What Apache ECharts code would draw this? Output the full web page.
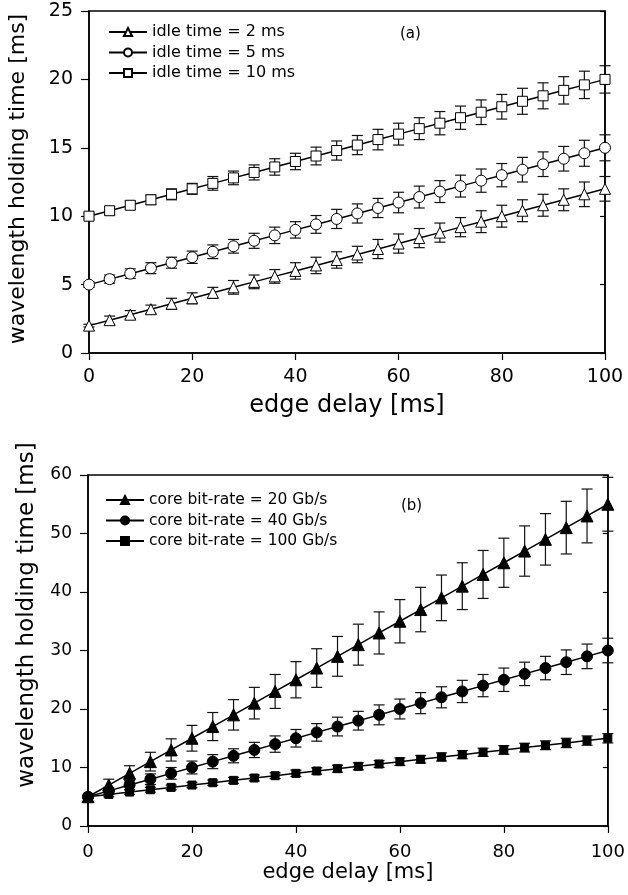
<!DOCTYPE html>
<html lang="en">
  <head>
    <meta charset="UTF-8" />
    <title>wavelength holding time</title>
    <script src="https://cdn.jsdelivr.net/npm/echarts@6.0.0/dist/echarts.min.js"></script>
    <style>
      html, body { margin: 0; padding: 0; background: #fff; }
      #main { width: 628px; height: 895px; }
    </style>
  </head>
  <body>
    <div id="main"></div>

    <script>
      var mCharts = echarts.init(document.getElementById("main"))

      // edge delay [ms]
      var delays = [0, 4, 8, 12, 16, 20, 24, 28, 32, 36, 40, 44, 48, 52, 56, 60, 64, 68, 72, 76, 80, 84, 88, 92, 96, 100]

      // (a) idle time
      var idle2 = [2.0, 2.4, 2.8, 3.2, 3.6, 4.0, 4.4, 4.8, 5.2, 5.6, 6.0, 6.4, 6.8, 7.2, 7.6, 8.0, 8.4, 8.8, 9.2, 9.6, 10.0, 10.4, 10.8, 11.2, 11.6, 12.0]
      var idle2Err = [0.1, 0.3, 0.3, 0.3, 0.4, 0.4, 0.4, 0.5, 0.5, 0.5, 0.6, 0.6, 0.6, 0.6, 0.7, 0.7, 0.7, 0.7, 0.7, 0.8, 0.8, 0.8, 0.8, 0.8, 0.9, 0.9]
      var idle5 = [5.0, 5.4, 5.8, 6.2, 6.6, 7.0, 7.4, 7.8, 8.2, 8.6, 9.0, 9.4, 9.8, 10.2, 10.6, 11.0, 11.4, 11.8, 12.2, 12.6, 13.0, 13.4, 13.8, 14.2, 14.6, 15.0]
      var idle5Err = [0.2, 0.3, 0.35, 0.4, 0.4, 0.45, 0.5, 0.5, 0.55, 0.6, 0.6, 0.65, 0.7, 0.7, 0.7, 0.75, 0.8, 0.8, 0.8, 0.85, 0.85, 0.9, 0.9, 0.9, 0.95, 0.95]
      var idle10 = [10.0, 10.4, 10.8, 11.2, 11.6, 12.0, 12.4, 12.8, 13.2, 13.6, 14.0, 14.4, 14.8, 15.2, 15.6, 16.0, 16.4, 16.8, 17.2, 17.6, 18.0, 18.4, 18.8, 19.2, 19.6, 20.0]
      var idle10Err = [0.2, 0.3, 0.3, 0.35, 0.4, 0.4, 0.5, 0.5, 0.55, 0.6, 0.6, 0.65, 0.7, 0.7, 0.75, 0.8, 0.8, 0.85, 0.85, 0.9, 0.9, 0.95, 0.95, 1.0, 1.0, 1.0]

      // (b) core bit-rate
      var rate20 = [5, 7, 9, 11, 13, 15, 17, 19, 21, 23, 25, 27, 29, 31, 33, 35, 37, 39, 41, 43, 45, 47, 49, 51, 53, 55]
      var rate20Err = [0.3, 1.0, 1.3, 1.6, 1.9, 2.2, 2.4, 2.6, 2.7, 2.9, 3.1, 3.3, 3.4, 3.5, 3.6, 3.7, 3.8, 3.9, 4.0, 4.1, 4.2, 4.3, 4.4, 4.5, 4.6, 4.6]
      var rate40 = [5, 6, 7, 8, 9, 10, 11, 12, 13, 14, 15, 16, 17, 18, 19, 20, 21, 22, 23, 24, 25, 26, 27, 28, 29, 30]
      var rate40Err = [0.2, 0.6, 0.8, 0.9, 1.0, 1.1, 1.2, 1.2, 1.3, 1.4, 1.5, 1.5, 1.6, 1.6, 1.7, 1.7, 1.8, 1.8, 1.9, 1.9, 2.0, 2.0, 2.0, 2.1, 2.1, 2.1]
      var rate100 = [5.0, 5.4, 5.8, 6.2, 6.6, 7.0, 7.4, 7.8, 8.2, 8.6, 9.0, 9.4, 9.8, 10.2, 10.6, 11.0, 11.4, 11.8, 12.2, 12.6, 13.0, 13.4, 13.8, 14.2, 14.6, 15.0]
      var rate100Err = [0.2, 0.4, 0.4, 0.4, 0.4, 0.45, 0.45, 0.5, 0.5, 0.5, 0.55, 0.55, 0.6, 0.6, 0.6, 0.65, 0.65, 0.7, 0.7, 0.7, 0.75, 0.75, 0.75, 0.8, 0.8, 0.8]

      var FONT = "DejaVu Sans"
      var yName = "wavelength holding time [ms]"

      function pts(ys) {
        return delays.map(function (x, i) { return [x, ys[i]] })
      }
      function errPts(ys, es) {
        return delays.map(function (x, i) { return [x, ys[i] - es[i], ys[i] + es[i]] })
      }

      // 误差线
      function renderErr(params, api) {
        var x = api.value(0)
        var lo = api.coord([x, api.value(1)])
        var hi = api.coord([x, api.value(2)])
        var w = 5.5
        var st = { stroke: "#111", lineWidth: 1.2 }
        return {
          type: "group",
          children: [
            { type: "line", shape: { x1: lo[0], y1: lo[1], x2: hi[0], y2: hi[1] }, style: st },
            { type: "line", shape: { x1: hi[0] - w, y1: hi[1], x2: hi[0] + w, y2: hi[1] }, style: st },
            { type: "line", shape: { x1: lo[0] - w, y1: lo[1], x2: lo[0] + w, y2: lo[1] }, style: st },
          ],
        }
      }

      function lineSeries(name, ys, idx, symbol, size, filled) {
        return {
          name: name,
          type: "line",
          xAxisIndex: idx,
          yAxisIndex: idx * 2,
          data: pts(ys),
          symbol: symbol,
          symbolSize: size,
          showAllSymbol: true,
          color: "#000",
          lineStyle: { color: "#000", width: 1.5 },
          itemStyle: { color: filled ? "#000" : "#fff", borderColor: "#000", borderWidth: 1 },
          z: 3,
          animation: false,
        }
      }

      function errSeries(ys, es, idx) {
        return {
          type: "custom",
          xAxisIndex: idx,
          yAxisIndex: idx * 2,
          data: errPts(ys, es),
          encode: { x: 0, y: [1, 2] },
          renderItem: renderErr,
          z: 2,
          silent: true,
          animation: false,
        }
      }

      function xAx(idx) {
        return {
          gridIndex: idx,
          type: "value",
          min: 0,
          max: 100,
          interval: 20,
          name: "edge delay [ms]",
          nameLocation: "middle",
          nameGap: idx === 0 ? 41 : 32,
          nameTextStyle: { fontFamily: FONT, fontSize: idx === 0 ? 24 : 21, color: "#000" },
          axisLine: { lineStyle: { color: "#000", width: 1.5 } },
          axisTick: { inside: false, length: 7, lineStyle: { color: "#000", width: 1.2 } },
          axisLabel: { fontFamily: FONT, fontSize: idx === 0 ? 19 : 18, color: "#000", margin: idx === 0 ? 15 : 17 },
          splitLine: { show: false },
        }
      }

      function yAx(idx, max, interval) {
        return [
          {
            gridIndex: idx,
            type: "value",
            min: 0,
            max: max,
            interval: interval,
            axisLine: { show: true, lineStyle: { color: "#000", width: 1.5 } },
            axisTick: { inside: false, length: 8, lineStyle: { color: "#000", width: 1.2 } },
            axisLabel: { fontFamily: FONT, fontSize: idx === 0 ? 19 : 17, color: "#000", margin: 16 },
            splitLine: { show: false },
          },
          {
            gridIndex: idx,
            type: "value",
            position: "right",
            min: 0,
            max: max,
            interval: interval,
            axisLine: { show: true, lineStyle: { color: "#000", width: 1.5 } },
            axisTick: { inside: true, length: 5, lineStyle: { color: "#000", width: 1.2 } },
            axisLabel: { show: false },
            splitLine: { show: false },
          },
        ]
      }

      function vText(text, x, y, size) {
        return {
          type: "text",
          x: x,
          y: y,
          rotation: Math.PI / 2,
          style: { text: text, font: size + "px DejaVu Sans", fill: "#000", align: "center", verticalAlign: "middle" },
        }
      }

      var option = {
        backgroundColor: "#fff",
        animation: false,
        grid: [
          { left: 89, top: 11, width: 516, height: 342, show: true, borderColor: "#000", borderWidth: 1.5 },
          { left: 88, top: 475, width: 524, height: 351, show: true, borderColor: "#000", borderWidth: 1.5 },
        ],
        xAxis: [xAx(0), xAx(1)],
        yAxis: yAx(0, 25, 5).concat(yAx(1, 60, 10)),
        legend: [
          {
            orient: "vertical",
            left: 103,
            top: 19,
            itemWidth: 38,
            itemHeight: 10,
            itemGap: 4.5,
            textStyle: { fontFamily: FONT, fontSize: 16, color: "#000" },
            data: ["idle time = 2 ms", "idle time = 5 ms", "idle time = 10 ms"],
          },
          {
            orient: "vertical",
            left: 100,
            top: 487,
            itemWidth: 38,
            itemHeight: 10,
            itemGap: 4.5,
            textStyle: { fontFamily: FONT, fontSize: 15.5, color: "#000" },
            data: ["core bit-rate = 20 Gb/s", "core bit-rate = 40 Gb/s", "core bit-rate = 100 Gb/s"],
          },
        ],
        graphic: [
          { type: "text", left: 400, top: 27, style: { text: "(a)", font: "15px DejaVu Sans", fill: "#000" } },
          { type: "text", left: 401, top: 499, style: { text: "(b)", font: "15px DejaVu Sans", fill: "#000" } },
          vText(yName, 18, 179, 22),
          vText(yName, 27, 615, 23),
        ],
        series: [
          errSeries(idle2, idle2Err, 0),
          errSeries(idle5, idle5Err, 0),
          errSeries(idle10, idle10Err, 0),
          lineSeries("idle time = 2 ms", idle2, 0, "triangle", 11, false),
          lineSeries("idle time = 5 ms", idle5, 0, "circle", 11, false),
          lineSeries("idle time = 10 ms", idle10, 0, "rect", 10, false),
          errSeries(rate20, rate20Err, 1),
          errSeries(rate40, rate40Err, 1),
          errSeries(rate100, rate100Err, 1),
          lineSeries("core bit-rate = 20 Gb/s", rate20, 1, "triangle", 12, true),
          lineSeries("core bit-rate = 40 Gb/s", rate40, 1, "circle", 11, true),
          lineSeries("core bit-rate = 100 Gb/s", rate100, 1, "rect", 8, true),
        ],
      }
      mCharts.setOption(option)
    </script>
  </body>
</html>
